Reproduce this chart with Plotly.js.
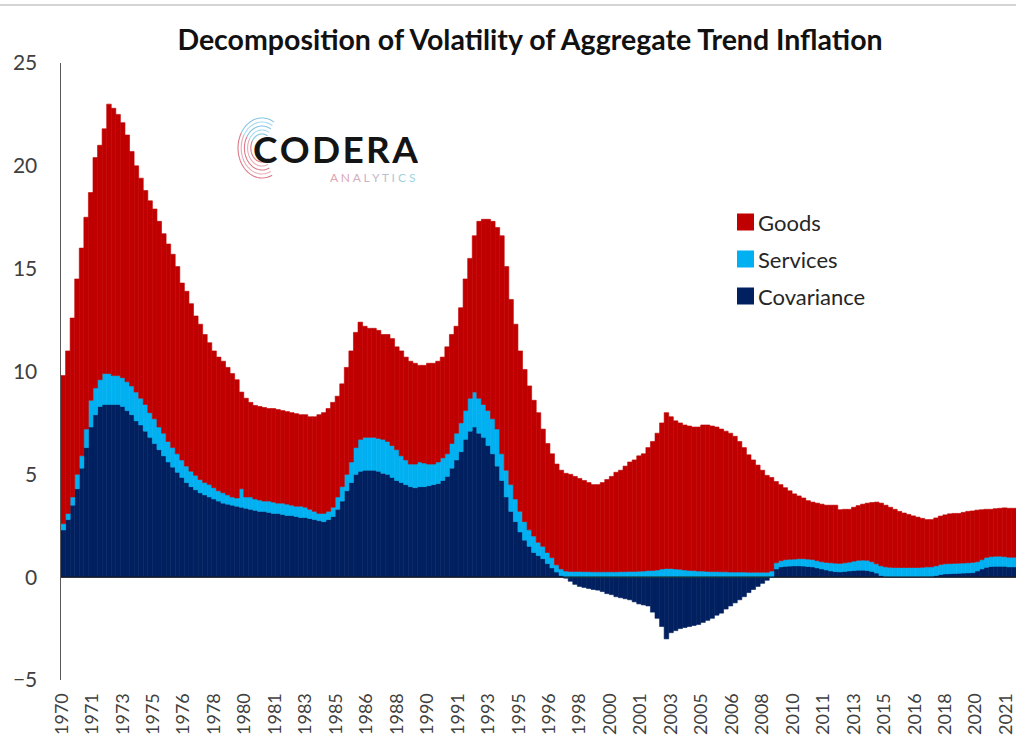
<!DOCTYPE html>
<html>
<head>
<meta charset="utf-8">
<script src="https://cdn.plot.ly/plotly-3.0.1.min.js"></script>
<style>html,body{margin:0;padding:0;background:#fff;}#chart{width:1016px;height:742px;}</style>
</head>
<body>
<div id="chart"></div>
<script>
// Quarterly data starting 1970Q1 (one row = one year); the last row is the partly visible 2022Q1
const startYear = 1970;

const goods = [
  7.2, 7.9, 8.7, 9.5,
  10.1, 10.3, 10.1, 11.2,
  11.4, 11.9, 13.1, 13.0,
  12.7, 12.4, 12.0, 11.4,
  11.0, 10.7, 10.4, 10.3,
  10.2, 10.0, 9.7, 9.6,
  9.4, 9.1, 8.6, 8.5,
  8.15, 7.75, 7.55, 7.2,
  6.9, 6.65, 6.5, 6.4,
  6.2, 6.0, 5.75, 4.7,
  4.8, 4.6, 4.55, 4.55,
  4.55, 4.5, 4.55, 4.55,
  4.5, 4.5, 4.5, 4.5,
  4.45, 4.5, 4.5, 4.6,
  4.8, 4.9, 5.0, 5.1,
  4.9, 5.0, 5.2, 5.4,
  5.6, 5.7, 5.4, 5.3,
  5.3, 5.25, 5.1, 5.2,
  5.2, 5.0, 5.1, 5.0,
  5.0, 4.9, 4.7, 4.75,
  4.9, 4.9, 4.9, 4.9,
  5.2, 5.3, 5.2, 5.6,
  6.4, 6.8, 7.6, 8.6,
  9.0, 9.3, 9.6, 9.8,
  10.6, 9.9, 9.0, 8.5,
  7.8, 7.4, 7.0, 6.6,
  6.3, 5.7, 5.3, 5.05,
  4.9, 4.8, 4.75, 4.72,
  4.62, 4.52, 4.43, 4.33,
  4.24, 4.24, 4.34, 4.49,
  4.64, 4.84, 4.93, 5.13,
  5.32, 5.42, 5.61, 5.7,
  5.98, 6.27, 6.65, 7.1,
  7.58, 7.38, 7.2, 7.12,
  7.05, 7.02, 6.98, 7.0,
  7.1, 7.12, 7.08, 7.03,
  6.94, 6.84, 6.75, 6.6,
  6.35, 6.05, 5.71, 5.46,
  5.21, 4.96, 4.71, 4.55,
  3.95, 3.7, 3.5, 3.33,
  3.17, 3.05, 2.95, 2.84,
  2.79, 2.8, 2.8, 2.78,
  2.8, 2.82, 2.61, 2.6,
  2.57, 2.62, 2.66, 2.72,
  2.78, 2.88, 3.0, 3.05,
  3.0, 2.92, 2.83, 2.73,
  2.65, 2.58, 2.51, 2.45,
  2.38, 2.3, 2.3, 2.33,
  2.35, 2.38, 2.42, 2.43,
  2.42, 2.46, 2.5, 2.5,
  2.51, 2.43, 2.34, 2.3,
  2.31, 2.33, 2.37, 2.38,
  2.38
];

const services = [
  0.3, 0.3, 0.4, 0.7,
  0.6, 0.9, 1.3, 1.3,
  1.3, 1.5, 1.5, 1.4,
  1.4, 1.4, 1.4, 1.4,
  1.4, 1.3, 1.3, 1.2,
  1.2, 1.1, 1.1, 1.0,
  0.95, 0.9, 0.85, 0.8,
  0.75, 0.7, 0.65, 0.6,
  0.6, 0.55, 0.5, 0.5,
  0.45, 0.4, 0.4, 0.9,
  0.55, 0.6, 0.55, 0.55,
  0.5, 0.55, 0.55, 0.5,
  0.55, 0.55, 0.5, 0.5,
  0.55, 0.5, 0.45, 0.4,
  0.35, 0.4, 0.4, 0.45,
  0.6, 0.7, 0.8, 1.0,
  1.3, 1.55, 1.6, 1.6,
  1.6, 1.6, 1.65, 1.6,
  1.55, 1.5, 1.3, 1.2,
  1.1, 1.15, 1.2, 1.15,
  1.05, 1.0, 1.05, 1.1,
  1.1, 1.2, 1.3, 1.4,
  1.4, 1.6, 1.7, 1.7,
  1.6, 1.7, 1.7, 1.8,
  1.3, 1.3, 1.3, 1.1,
  1.0, 0.9, 0.8, 0.8,
  0.65, 0.6, 0.54, 0.5,
  0.35, 0.32, 0.3, 0.28,
  0.28, 0.28, 0.27, 0.27,
  0.26, 0.26, 0.26, 0.26,
  0.26, 0.26, 0.27, 0.27,
  0.28, 0.28, 0.29, 0.3,
  0.32, 0.33, 0.35, 0.4,
  0.42, 0.42, 0.4, 0.38,
  0.35, 0.33, 0.32, 0.3,
  0.3, 0.28, 0.27, 0.27,
  0.26, 0.26, 0.25, 0.25,
  0.25, 0.25, 0.24, 0.24,
  0.24, 0.24, 0.24, 0.3,
  0.3, 0.3, 0.32, 0.33,
  0.33, 0.35, 0.36, 0.36,
  0.36, 0.35, 0.35, 0.37,
  0.4, 0.41, 0.41, 0.42,
  0.43, 0.46, 0.48, 0.49,
  0.5, 0.47, 0.45, 0.47,
  0.47, 0.46, 0.45, 0.45,
  0.45, 0.45, 0.45, 0.45,
  0.45, 0.47, 0.46, 0.47,
  0.49, 0.49, 0.49, 0.49,
  0.49, 0.49, 0.49, 0.5,
  0.45, 0.45, 0.48, 0.48,
  0.49, 0.49, 0.47, 0.47,
  0.47
];

const covariance = [
  2.3, 2.8, 3.5, 4.3,
  5.3, 6.3, 7.3, 7.9,
  8.3, 8.4, 8.4, 8.4,
  8.4, 8.3, 8.1, 7.9,
  7.6, 7.4, 7.1, 6.8,
  6.5, 6.2, 5.9, 5.6,
  5.35, 5.1, 4.85, 4.6,
  4.4, 4.25, 4.1, 4.0,
  3.9, 3.8, 3.7, 3.6,
  3.55, 3.5, 3.45, 3.4,
  3.35, 3.3, 3.25, 3.2,
  3.2, 3.15, 3.1, 3.1,
  3.05, 3.0, 3.0, 2.95,
  2.9, 2.9, 2.85, 2.8,
  2.75, 2.7, 2.8, 2.95,
  3.3, 3.7, 4.2, 4.6,
  5.0, 5.15, 5.2, 5.2,
  5.2, 5.15, 5.05, 5.0,
  4.85, 4.7, 4.6, 4.5,
  4.4, 4.35, 4.4, 4.4,
  4.45, 4.5, 4.55, 4.7,
  4.9, 5.3, 5.7, 6.1,
  6.7, 7.1, 7.3, 7.0,
  6.8, 6.4, 6.0, 5.4,
  4.7, 3.9, 3.2, 2.7,
  2.2, 1.8, 1.5, 1.2,
  1.05, 0.9, 0.66, 0.45,
  0.25, 0.08, -0.05, -0.2,
  -0.35, -0.45, -0.5, -0.55,
  -0.6, -0.63, -0.7, -0.8,
  -0.85, -0.95, -1.0, -1.05,
  -1.1, -1.2, -1.3, -1.35,
  -1.4, -1.7, -2.0, -2.4,
  -3.0, -2.7, -2.6, -2.5,
  -2.45, -2.4, -2.35, -2.3,
  -2.2, -2.1, -2.0, -1.85,
  -1.75, -1.55, -1.4, -1.25,
  -1.1, -0.95, -0.75, -0.6,
  -0.45, -0.3, -0.15, 0.0,
  0.4, 0.5, 0.53, 0.54,
  0.55, 0.55, 0.54, 0.52,
  0.5, 0.45, 0.4, 0.35,
  0.3, 0.27, 0.26, 0.28,
  0.3, 0.32, 0.34, 0.34,
  0.32, 0.28, 0.2, 0.08,
  0.03, 0.02, 0.02, 0.02,
  0.02, 0.02, 0.02, 0.02,
  0.03, 0.03, 0.04, 0.08,
  0.13, 0.16, 0.17, 0.18,
  0.19, 0.2, 0.21, 0.22,
  0.3, 0.4, 0.48, 0.52,
  0.53, 0.53, 0.53, 0.5,
  0.5
];

// x-axis tick labels (one every 20 months, as in the source chart)
const tickLabels = ['1970','1971','1973','1975','1976','1978','1980','1981','1983','1985',
  '1986','1988','1990','1991','1993','1995','1996','1998','2000','2001','2003','2005',
  '2006','2008','2010','2011','2013','2015','2016','2018','2020','2021'];

const seriesNames = ['Goods', 'Services', 'Covariance'];
const seriesColors = {Goods: '#C00000', Services: '#00B0F0', Covariance: '#002060'};

// quarter mid-points as decimal years
const quarters = goods.map((_, i) => startYear + (i + 0.5) / 4);
const tickVals = tickLabels.map((_, k) => startYear + k * 20 / 12 + 1 / 24);

function barTrace(name, values) {
  const c = seriesColors[name];
  return {
    type: 'bar', name: name, x: quarters, y: values,
    marker: {color: c, line: {color: c, width: 0.6}},
    showlegend: false, hoverinfo: 'x+y+name'
  };
}

const traces = [
  barTrace('Covariance', covariance),
  barTrace('Services', services),
  barTrace('Goods', goods)
];

// pixel -> paper helpers (plot area: x 61..1016, y 63..680)
const L = 61, R = 1016, T = 63, B = 680;
const px = X => (X - L) / (R - L);
const py = Y => (B - Y) / (B - T);

const shapes = [];
const annotations = [];

// thin grey border line at the very top
shapes.push({type: 'line', xref: 'paper', yref: 'paper', x0: px(0), x1: px(1016), y0: py(5), y1: py(5),
  line: {color: '#d4d4d4', width: 2}});

// zero line drawn over the bars
shapes.push({type: 'line', xref: 'paper', yref: 'y', x0: 0, x1: 1, y0: 0, y1: 0,
  line: {color: '#1a1a1a', width: 1.2}, layer: 'above'});

// legend (manual, to match the large square swatches)
const legendRows = [222, 259, 296];
seriesNames.forEach((n, i) => {
  const cy = legendRows[i];
  shapes.push({type: 'rect', xref: 'paper', yref: 'paper',
    x0: px(737), x1: px(754), y0: py(cy + 8.5), y1: py(cy - 8.5),
    fillcolor: seriesColors[n], line: {width: 0}});
  annotations.push({xref: 'paper', yref: 'paper', x: px(756), y: py(cy), xanchor: 'left', yanchor: 'middle',
    text: n, showarrow: false, font: {family: 'Lato, sans-serif', size: 22, color: '#262626'}});
});

// logo: fingerprint-like arcs
function arcPath(cx, cy, r, a0, a1) {
  let d = '';
  const steps = 24;
  for (let s = 0; s <= steps; s++) {
    const a = (a0 + (a1 - a0) * s / steps) * Math.PI / 180;
    const X = cx + r * Math.cos(a) * 0.8, Y = cy - r * Math.sin(a);
    d += (s === 0 ? 'M ' : ' L ') + px(X).toFixed(5) + ',' + py(Y).toFixed(5);
  }
  return d;
}
const logoCx = 262, logoCy = 148;
[14, 18, 22, 26, 30].forEach((r, k) => {
  shapes.push({type: 'path', xref: 'paper', yref: 'paper', path: arcPath(logoCx, logoCy, r, 60, 150),
    line: {color: k % 2 ? '#a9dcf0' : '#86c4e3', width: 1.1}});
  shapes.push({type: 'path', xref: 'paper', yref: 'paper', path: arcPath(logoCx, logoCy, r, 150, 295),
    line: {color: k % 2 ? '#eaaab5' : '#dc7a8a', width: 1.1}});
});
annotations.push({xref: 'paper', yref: 'paper', x: px(335), y: py(148), xanchor: 'center', yanchor: 'middle',
  height: 34, valign: 'middle',
  text: '<b>C\u200AO\u200AD\u200AE\u200AR\u200AA</b>', showarrow: false,
  font: {family: 'Lato, sans-serif', size: 37, color: '#141414'}});
const anaColors = ['#e3a1b0','#dca7b8','#d4adc0','#cbb3c6','#c1bacb','#b6c2d0','#abcad5','#a3d1da','#9dd6dd'];
const anaText = 'ANALYTICS'.split('').map((ch, i) => '<span style="color:' + anaColors[i] + '">' + ch + '</span>').join(' ');
annotations.push({xref: 'paper', yref: 'paper', x: px(373), y: py(177), xanchor: 'center', yanchor: 'middle',
  text: anaText, showarrow: false, font: {family: 'Lato, sans-serif', size: 12, color: '#c9a7b5'}});

const layout = {
  width: 1016, height: 742,
  margin: {l: L, r: 1016 - R, t: T, b: 742 - B, pad: 0},
  paper_bgcolor: '#ffffff', plot_bgcolor: '#ffffff',
  font: {family: 'Lato, "Open Sans", sans-serif', color: '#404040'},
  title: {text: '<b>Decomposition of Volatility of Aggregate Trend Inflation</b>',
    x: 530 / 1016, xanchor: 'center', y: 1 - 40 / 742, yanchor: 'middle', yref: 'container',
    font: {family: 'Lato, sans-serif', size: 28.5, color: '#111111'}},
  barmode: 'relative', bargap: 0,
  xaxis: {range: [startYear, 2022.25], tickmode: 'array', tickvals: tickVals, ticktext: tickLabels,
    tickangle: -90, tickfont: {size: 18, color: '#404040'}, showgrid: false, zeroline: false,
    ticklabeloverflow: 'allow',
    showline: false, ticks: 'outside', ticklen: 5, tickcolor: 'rgba(0,0,0,0)', fixedrange: true},
  yaxis: {range: [-5, 25], tick0: 0, dtick: 5, showgrid: false, zeroline: false,
    showline: true, linecolor: '#595959', linewidth: 1.5,
    ticks: 'outside', ticklen: 18, tickcolor: 'rgba(0,0,0,0)',
    tickfont: {size: 21, color: '#404040'}, fixedrange: true},
  shapes: shapes, annotations: annotations, showlegend: false
};

Plotly.newPlot('chart', traces, layout, {displayModeBar: false, staticPlot: true});
</script>
</body>
</html>
